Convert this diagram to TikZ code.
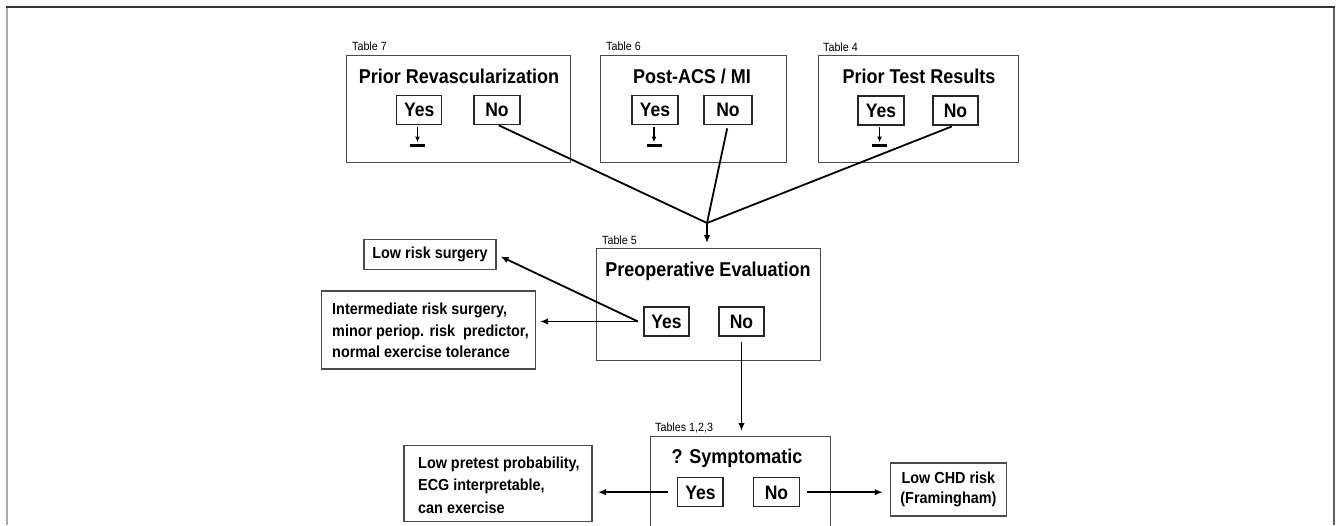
\documentclass[tikz,border=0pt]{standalone}
\usepackage{fontspec}
\setmainfont{Liberation Sans}
\newfontfamily\cndfam{Liberation Sans}
\newcommand\cz[1]{\scalebox{0.9}[1]{#1}}
\usetikzlibrary{arrows.meta,calc}
\definecolor{boxgray}{HTML}{4A4A4A}
\definecolor{framedark}{HTML}{333333}
\definecolor{framelight}{HTML}{AAAAAA}
\begin{document}
\begin{tikzpicture}[x=1pt,y=-1pt,
  bigbox/.style={draw=boxgray, line width=1pt, inner sep=0pt, outer sep=0pt},
  ynbox/.style={draw=black!85, line width=1.4pt, inner sep=0pt, outer sep=0pt, minimum height=29pt,
    text height=13.8pt, text depth=0pt, font=\cndfam\bfseries\fontsize{19.5}{22}\selectfont},
  title/.style={inner sep=0pt, anchor=base, font=\cndfam\bfseries\fontsize{20}{22}\selectfont},
  tbl/.style={inner sep=0pt, anchor=base west, font=\cndfam\fontsize{11.9}{13}\selectfont},
  txtbox/.style={draw=boxgray, line width=1.1pt, inner sep=0pt, outer sep=0pt,
    font=\cndfam\bfseries\fontsize{16}{21.7}\selectfont},
  bodytxt/.style={inner sep=0pt, align=left, font=\cndfam\bfseries\fontsize{16}{21.7}\selectfont},
  conn/.style={line width=1.8pt, draw=black},
  arr/.style={conn, -{Latex[length=8pt,width=6.5pt]}},
  smallarr/.style={line width=1.3pt, draw=black, -{Latex[length=6pt,width=5pt]}},
  barnode/.style={fill=black, inner sep=0pt, minimum width=15pt, minimum height=3pt}
]
\useasboundingbox (0,0) rectangle (1339,525);
\clip (0,0) rectangle (1339,525);
\fill[white] (0,0) rectangle (1339,525);

% frame
\draw[framelight, line width=1.5pt] (7,7) -- (7,525);
\draw[framedark!80, line width=1.5pt] (1334,7) -- (1334,525);
\draw[framedark, line width=1.5pt] (6,7) -- (1334.75,7);

% ---- top row ----
\node[bigbox, minimum width=223.3pt, minimum height=107pt] (box1) at (458.4,108.5) {};
\node[bigbox, minimum width=186.7pt, minimum height=107pt] (box2) at (693.4,108.5) {};
\node[bigbox, minimum width=200pt, minimum height=107pt] (box3) at (918,109.4) {};

\node[tbl] (t7) at (352,50.3) {\cz{Table 7}};
\node[tbl] (t6) at (606,50.3) {\cz{Table 6}};
\node[tbl] (t4) at (823,51.5) {\cz{Table 4}};

\node[title] (ti1) at (459,83.3) {\cz{Prior Revascularization}};
\node[title] (ti2) at (692,83.3) {\cz{Post-ACS / MI}};
\node[title] (ti3) at (919,83.3) {\cz{Prior Test Results}};

\node[ynbox, minimum width=45pt] (yes1) at (419.2,110) {\cz{Yes}};
\node[ynbox, minimum width=46pt] (no1) at (497,110) {\cz{No}};
\node[ynbox, minimum width=46pt] (yes2) at (655,110) {\cz{Yes}};
\node[ynbox, minimum width=48pt] (no2) at (728,110) {\cz{No}};
\node[ynbox, minimum width=46pt] (yes3) at (881,110.5) {\cz{Yes}};
\node[ynbox, minimum width=45pt] (no3) at (955.5,110.5) {\cz{No}};

\node[barnode] (bar1) at (417.5,145.7) {};
\node[barnode] (bar2) at (654,145.7) {};
\node[barnode] (bar3) at (879.5,145.7) {};
\draw[smallarr, shorten <=2pt, shorten >=1.5pt] (bar1 |- yes1.south) -- (bar1.north);
\draw[smallarr, shorten <=2pt, shorten >=1.5pt] (bar2 |- yes2.south) -- (bar2.north);
\draw[smallarr, shorten <=2pt, shorten >=1.5pt] (bar3 |- yes3.south) -- (bar3.north);

% ---- preoperative evaluation ----
\node[bigbox, minimum width=224pt, minimum height=112.7pt] (box5) at (708,304.4) {};
\node[tbl] (t5) at (602,244) {\cz{Table 5}};
\node[title] (ti5) at (708,276.7) {\cz{Preoperative Evaluation}};
\node[ynbox, minimum width=45pt] (yes5) at (666.5,321.5) {\cz{Yes}};
\node[ynbox, minimum width=45pt] (no5) at (741.5,321.5) {\cz{No}};

\coordinate (C) at (707,223);
\draw[conn, shorten <=2pt] (no1.south) -- (C);
\draw[conn, shorten <=4pt] (no2.south) -- (C);
\draw[conn, shorten <=4pt] (no3.south) -- (C);
\draw[arr, shorten >=5pt] (C) -- (C |- box5.north);

\node[txtbox, minimum width=132pt, minimum height=30pt] (lowrisk) at (430,254.3) {\cz{Low risk surgery}};
\node[txtbox, minimum width=213.3pt, minimum height=78pt] (inter) at (428.4,330) {};
\node[bodytxt, anchor=west] (intertxt) at (332,330.5)
  {\cz{Intermediate risk surgery,}\\\cz{minor periop. risk\ \ predictor,}\\\cz{normal exercise tolerance}};

\coordinate (Y5) at ($(yes5.west)+(-6,0)$);
\draw[arr, shorten >=5pt] (Y5) -- (lowrisk.east);
\draw[arr, shorten >=5pt] (Y5) -- (Y5 -| inter.east);

% ---- symptomatic ----
\node[bigbox, minimum width=180pt, minimum height=109pt] (box6) at (740,490.5) {};
\node[tbl] (t123) at (655,431.7) {\cz{Tables 1,2,3}};
\node[title] (ti6) at (737,463.3) {\cz{? Symptomatic}};
\node[ynbox, minimum width=45.3pt] (yes6) at (700.4,492.2) {\cz{Yes}};
\node[ynbox, minimum width=45.6pt] (no6) at (776.5,492.2) {\cz{No}};

\draw[arr, shorten <=6pt, shorten >=5pt] (no5.south) -- (no5.south |- box6.north);

\node[txtbox, minimum width=188pt, minimum height=76pt] (lowpre) at (498,483.7) {};
\node[bodytxt, anchor=west, font=\cndfam\bfseries\fontsize{16}{22.3}\selectfont] (lowpretxt) at (418,485)
  {\cz{Low pretest probability,}\\\cz{ECG interpretable,}\\\cz{can exercise}};
\node[txtbox, minimum width=115.3pt, minimum height=53pt, align=center,
  font=\cndfam\bfseries\fontsize{16}{20}\selectfont]
  (lowchd) at (948.4,489.5) {\cz{Low CHD risk}\\\cz{(Framingham)}};

\draw[arr, shorten <=10pt, shorten >=6pt] (yes6.west) -- (yes6.west -| lowpre.east);
\draw[arr, shorten <=8pt, shorten >=8pt] (no6.east) -- (no6.east -| lowchd.west);
\end{tikzpicture}
\end{document}
